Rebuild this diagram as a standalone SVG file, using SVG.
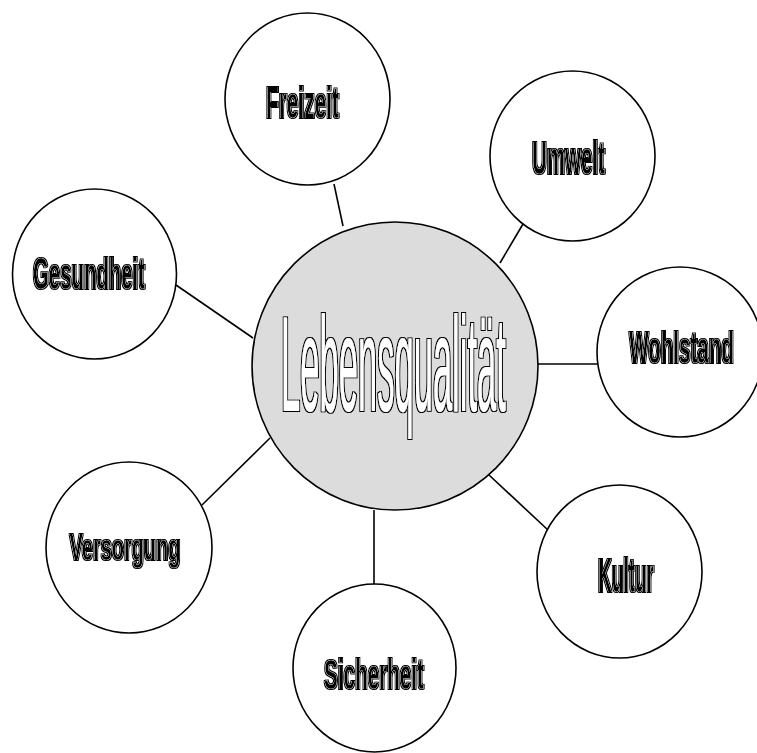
<svg xmlns="http://www.w3.org/2000/svg" width="757" height="753" viewBox="0 0 757 753">
<style>
.node{fill:#fff;stroke:#000;stroke-width:1.6}
.hub{fill:#dcdcdc;stroke:#000;stroke-width:1.6}
.lbl{font-family:"Liberation Sans",Arial,sans-serif;font-weight:bold;fill:#000;text-anchor:middle}
.big{font-family:"Liberation Sans",Arial,sans-serif;fill:#fff;text-anchor:middle}
#connectors line{stroke:#000;stroke-width:1.6}
</style>
<defs>
<filter id="ol" x="-10%" y="-30%" width="120%" height="160%">
<feMorphology in="SourceAlpha" operator="dilate" radius="0.6" result="d"/>
<feFlood flood-color="#fff" result="wf"/>
<feComposite in="wf" in2="SourceAlpha" operator="in" result="w"/>
<feMorphology in="SourceAlpha" operator="erode" radius="0.35" result="e"/>
<feMerge><feMergeNode in="d"/><feMergeNode in="w"/><feMergeNode in="e"/></feMerge>
</filter>
<filter id="olw" x="-5%" y="-10%" width="110%" height="120%">
<feMorphology in="SourceAlpha" operator="dilate" radius="1.2" result="d"/>
<feMerge><feMergeNode in="d"/><feMergeNode in="SourceGraphic"/></feMerge>
</filter>
</defs>
<rect width="757" height="753" fill="#fff"/>
<g id="connectors">
<line x1="334" y1="184" x2="343" y2="226"/>
<line x1="523" y1="224" x2="500" y2="263"/>
<line x1="537" y1="364" x2="598" y2="364"/>
<line x1="176" y1="285" x2="253" y2="338"/>
<line x1="202" y1="505" x2="270" y2="438"/>
<line x1="374" y1="510" x2="374" y2="585"/>
<line x1="489" y1="475" x2="548" y2="530"/>
</g>
<g id="hub">
<ellipse class="hub" cx="395" cy="366" rx="143" ry="144"/>
<g filter="url(#olw)"><text class="big" font-size="135" transform="translate(393.5 411) scale(0.256 1)">Lebensqualität</text></g>
</g>
<g id="freizeit">
<ellipse class="node" cx="307.5" cy="99" rx="82.5" ry="86"/>
<g filter="url(#ol)"><text class="lbl" font-size="44" transform="translate(302.5 118) scale(0.474 1)">Freizeit</text></g>
</g>
<g id="umwelt">
<ellipse class="node" cx="572.5" cy="156" rx="82.5" ry="85"/>
<g filter="url(#ol)"><text class="lbl" font-size="47" transform="translate(568.5 174) scale(0.437 1)">Umwelt</text></g>
</g>
<g id="wohlstand">
<ellipse class="node" cx="680" cy="352" rx="83" ry="85"/>
<g filter="url(#ol)"><text class="lbl" font-size="44.5" transform="translate(681.5 363) scale(0.462 1)">Wohlstand</text></g>
</g>
<g id="gesundheit">
<ellipse class="node" cx="94.5" cy="274" rx="82" ry="85"/>
<g filter="url(#ol)"><text class="lbl" font-size="44.5" transform="translate(89 289) scale(0.4575 1)">Gesundheit</text></g>
</g>
<g id="versorgung">
<ellipse class="node" cx="129" cy="547.5" rx="83" ry="85.5"/>
<g filter="url(#ol)"><text class="lbl" font-size="36" transform="translate(125 560) scale(0.554 1)">Versorgung</text></g>
</g>
<g id="sicherheit">
<ellipse class="node" cx="374.5" cy="668" rx="81.5" ry="84"/>
<g filter="url(#ol)"><text class="lbl" font-size="43" transform="translate(374 689) scale(0.481 1)">Sicherheit</text></g>
</g>
<g id="kultur">
<ellipse class="node" cx="619.5" cy="571.5" rx="82.5" ry="86.5"/>
<g filter="url(#ol)"><text class="lbl" font-size="48" transform="translate(626 592) scale(0.396 1)">Kultur</text></g>
</g>
</svg>
